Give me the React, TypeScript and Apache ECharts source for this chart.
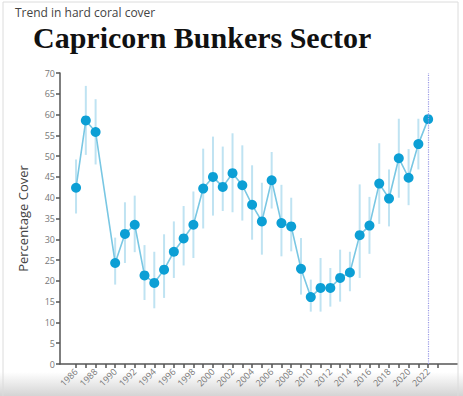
import React, { useEffect, useRef } from "react";
import * as echarts from "echarts";

const years = [1986, 1987, 1988, 1990, 1991, 1992, 1993, 1994, 1995, 1996, 1997, 1998, 1999, 2000, 2001, 2002, 2003, 2004, 2005, 2006, 2007, 2008, 2009, 2010, 2011, 2012, 2013, 2014, 2015, 2016, 2017, 2018, 2019, 2020, 2021, 2022];
const cover = [42.4, 58.6, 55.8, 24.3, 31.3, 33.5, 21.3, 19.5, 22.7, 27.0, 30.2, 33.5, 42.2, 45.0, 42.6, 45.9, 43.0, 38.3, 34.3, 44.2, 33.9, 33.1, 22.9, 16.1, 18.3, 18.3, 20.7, 22.0, 31.0, 33.3, 43.4, 39.8, 49.5, 44.8, 52.9, 58.9];
const lower = [36.2, 50.3, 48.0, 19.1, 24.3, 26.9, 15.4, 13.4, 15.9, 20.7, 23.7, 25.5, 32.6, 35.7, 36.8, 36.5, 34.5, 29.9, 26.3, 37.4, 25.9, 27.1, 16.7, 12.6, 12.6, 13.8, 15.0, 17.5, 20.7, 26.5, 33.7, 33.1, 40.0, 38.2, 46.8, null];
const upper = [49.2, 66.9, 63.7, 30.4, 38.9, 40.5, 28.6, 27.0, 31.2, 34.3, 38.0, 41.5, 51.8, 54.7, 52.3, 55.5, 52.6, 47.8, 43.6, 51.0, 43.1, 40.0, 30.3, 20.3, 25.5, 23.1, 27.5, 27.0, 43.2, 40.2, 53.1, 46.8, 59.0, 51.7, 59.0, null];
const tickYears = Array.from({ length: 38 }, (_, i) => 1986 + i);
const labelYears = [1986, 1988, 1990, 1992, 1994, 1996, 1998, 2000, 2002, 2004, 2006, 2008, 2010, 2012, 2014, 2016, 2018, 2020, 2022];
const highlightYear = 2022;
const subtitle = "Trend in hard coral cover";
const title = "Capricorn Bunkers Sector";
const yName = "Percentage Cover";

export default function App() {
  const ref = useRef<HTMLDivElement>(null);
  useEffect(() => {
    if (!ref.current) return;
    const chart = echarts.init(ref.current, null, { renderer: "svg" });
    const lineData = years.map((y, i) => [y, cover[i]]);
    const errData = years
      .map((y, i) => [y, lower[i], upper[i]])
      .filter((d) => d[1] != null && d[2] != null);
    chart.setOption({
      animation: false,
      backgroundColor: "#ffffff",
      graphic: [
        {
          type: "rect",
          z: -10,
          silent: true,
          shape: { x: 0, y: 372, width: 463, height: 24 },
          style: {
            fill: new echarts.graphic.LinearGradient(0, 0, 0, 1, [
              { offset: 0, color: "#ffffff" },
              { offset: 1, color: "#d4d4d4" },
            ]),
          },
        },
        {
          type: "rect",
          z: -9,
          silent: true,
          shape: { x: 3, y: 2, width: 455, height: 400 },
          style: { fill: "none", stroke: "#dcdcdc", lineWidth: 1 },
        },
        {
          type: "text",
          x: 15,
          y: 12,
          style: {
            text: subtitle,
            fontFamily: "Open Sans",
            fontSize: 12,
            lineHeight: 12,
            fill: "#444",
            verticalAlign: "middle",
          },
        },
        {
          type: "text",
          x: 33,
          y: 37,
          style: {
            text: title,
            fontFamily: "Liberation Serif",
            fontWeight: "bold",
            fontSize: 30,
            lineHeight: 24,
            fill: "#111",
            verticalAlign: "middle",
          },
        },
      ],
      grid: { left: 60, right: 6, top: 73, bottom: 32, containLabel: false },
      xAxis: {
        type: "value",
        min: 1984.36,
        max: 2024.95,
        splitLine: { show: false },
        axisLine: { show: true, lineStyle: { color: "#555", width: 1.5 } },
        axisTick: {
          show: true,
          customValues: tickYears,
          length: 4,
          lineStyle: { color: "#555", width: 1.5 },
        },
        axisLabel: {
          customValues: labelYears,
          rotate: 45,
          fontSize: 9,
          color: "#777",
          fontFamily: "Open Sans",
          margin: 6,
          formatter: (v: number) => String(v),
        },
      },
      yAxis: {
        type: "value",
        min: 0,
        max: 70,
        interval: 5,
        name: yName,
        nameLocation: "middle",
        nameGap: 31,
        nameTextStyle: { fontSize: 13, color: "#444", fontFamily: "Open Sans" },
        splitLine: { show: false },
        axisLine: { show: true, lineStyle: { color: "#555", width: 1.5 } },
        axisTick: { show: true, length: 4, lineStyle: { color: "#555", width: 1.5 } },
        axisLabel: { fontSize: 9, color: "#777", fontFamily: "Open Sans", margin: 5 },
      },
      series: [
        {
          type: "custom",
          data: errData,
          z: 1,
          silent: true,
          renderItem: (params: any, api: any) => {
            const x = api.value(0);
            const p1 = api.coord([x, api.value(1)]);
            const p2 = api.coord([x, api.value(2)]);
            return {
              type: "line",
              shape: { x1: p1[0], y1: p1[1], x2: p2[0], y2: p2[1] },
              style: { stroke: "#bfe3f2", lineWidth: 2 },
            };
          },
        },
        {
          type: "line",
          data: lineData,
          z: 2,
          symbol: "circle",
          symbolSize: 10,
          lineStyle: { color: "#79c7e3", width: 1.6 },
          itemStyle: { color: "#0c9fd5", borderWidth: 0 },
          markLine: {
            silent: true,
            symbol: "none",
            label: { show: false },
            lineStyle: { type: "dotted", color: "#9a9ae6", width: 1.2 },
            data: [{ xAxis: highlightYear }],
          },
        },
      ],
    });
    return () => chart.dispose();
  }, []);
  return (
    <div
      ref={ref}
      style={{ position: "fixed", left: 0, top: 0, width: 463, height: 396 }}
    />
  );
}
